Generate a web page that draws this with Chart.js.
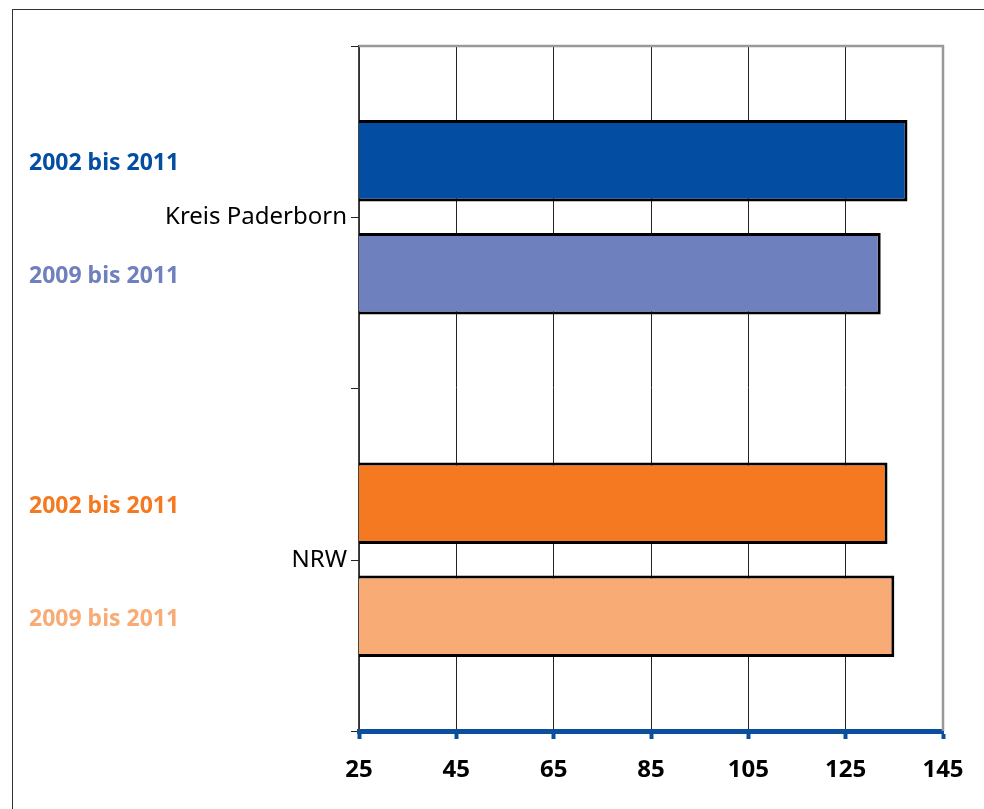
<!DOCTYPE html>
<html>
<head>
<meta charset="utf-8">
<script src="https://cdn.jsdelivr.net/npm/chart.js@4"></script>
<style>
  html, body { margin: 0; padding: 0; background: #fff; }
  #frame { position: absolute; left: 12px; top: 9px; width: 1000px; height: 900px; border: 1.5px solid #333; }
  #wrap { position: absolute; left: 0; top: 0; width: 984px; height: 809px; }
</style>
</head>
<body>
<div id="frame"></div>
<div id="wrap"><canvas id="chart" width="984" height="809"></canvas></div>
<script>
const regions = ["Kreis Paderborn", "NRW"];
const periods = ["2002 bis 2011", "2009 bis 2011"];
const values_2002_2011 = [137.7, 133.6];
const values_2009_2011 = [132.2, 135.0];
const colors_2002_2011 = ["#034ea2", "#f47920"];
const colors_2009_2011 = ["#6f80bf", "#f9ab75"];
const xTicks = [25, 45, 65, 85, 105, 125, 145];

const fontFamily = "'Noto Sans', 'DejaVu Sans', sans-serif";

// draws the coloured period labels on the left, the centre ticks and the top/right border
const sideLabels = {
  id: "sideLabels",
  afterDraw(chart) {
    const ctx = chart.ctx;
    const area = chart.chartArea;
    ctx.save();
    ctx.font = "bold 23px " + fontFamily;
    ctx.textAlign = "left";
    ctx.textBaseline = "middle";
    chart.data.datasets.forEach((ds, i) => {
      const meta = chart.getDatasetMeta(i);
      meta.data.forEach((bar, j) => {
        ctx.fillStyle = ds.backgroundColor[j];
        ctx.fillText(periods[i], 29, bar.y + 3);
      });
    });
    // tick at each category label
    const yScale = chart.scales.y;
    ctx.strokeStyle = "#222";
    ctx.lineWidth = 1;
    regions.forEach((r, j) => {
      const y = Math.round(yScale.getPixelForValue(j)) + 0.5;
      ctx.beginPath();
      ctx.moveTo(area.left - 8, y);
      ctx.lineTo(area.left, y);
      ctx.stroke();
    });
    // top and right border of the plot
    ctx.strokeStyle = "#999";
    ctx.lineWidth = 2.5;
    ctx.beginPath();
    ctx.moveTo(area.left, area.top);
    ctx.lineTo(area.right, area.top);
    ctx.lineTo(area.right, area.bottom);
    ctx.stroke();
    ctx.restore();
  }
};

const data = {
  labels: regions,
  datasets: [
    {
      label: periods[0],
      data: values_2002_2011,
      backgroundColor: colors_2002_2011,
      borderColor: "#000",
      borderWidth: 3,
      borderSkipped: false,
    },
    {
      label: periods[1],
      data: values_2009_2011,
      backgroundColor: colors_2009_2011,
      borderColor: "#000",
      borderWidth: 3,
      borderSkipped: false,
    },
  ],
};

const config = {
  type: "bar",
  data,
  options: {
    indexAxis: "y",
    responsive: false,
    animation: false,
    categoryPercentage: 0.66,
    barPercentage: 0.72,
    layout: { padding: { top: 46, right: 41, left: 0, bottom: 0 } },
    plugins: {
      legend: { display: false },
      tooltip: { enabled: false },
    },
    scales: {
      x: {
        min: xTicks[0],
        max: xTicks[xTicks.length - 1],
        afterBuildTicks: (scale) => {
          scale.ticks = xTicks.map((v) => ({ value: v }));
        },
        afterFit: (scale) => {
          scale.height = 78;
        },
        border: { color: "#0a4ea0", width: 5 },
        grid: {
          color: (c) => (c.index === xTicks.length - 1 ? "#999" : "#222"),
          lineWidth: 1,
          tickColor: "#0a4ea0",
          tickWidth: 4,
          tickLength: 8,
        },
        ticks: {
          color: "#000",
          padding: 17,
          font: { family: fontFamily, size: 24, weight: "bold" },
        },
      },
      y: {
        afterFit: (scale) => {
          scale.width = 359;
        },
        border: { color: "#444", width: 1.5 },
        grid: {
          drawOnChartArea: false,
          offset: true,
          color: "#222",
          tickLength: 8,
        },
        ticks: {
          color: "#000",
          padding: 4,
          font: { family: fontFamily, size: 24 },
        },
      },
    },
  },
  plugins: [sideLabels],
};

new Chart(document.getElementById("chart"), config);
</script>
</body>
</html>
